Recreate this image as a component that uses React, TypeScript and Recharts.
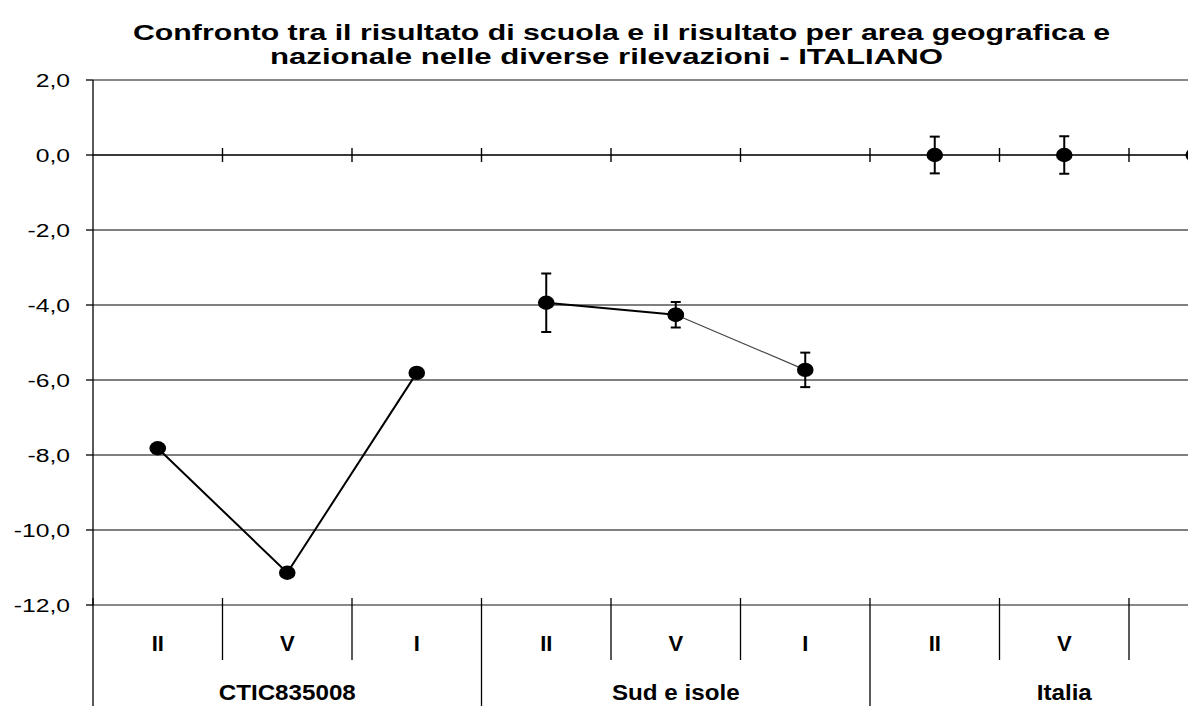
import React from 'react';
import { LineChart, Line, XAxis, YAxis, CartesianGrid, ReferenceLine, ErrorBar } from 'recharts';

// ---- data ----
const groups = ['CTIC835008', 'Sud e isole', 'Italia'];
const surveys = ['II', 'V', 'I'];
const schoolScores = [-7.82, -11.14, -5.81];
const areaScores = [-3.94, -4.26, -5.73];
const areaErrors = [0.78, 0.34, 0.46];
const nationalScores = [0, 0, 0];
const nationalErrors = [0.49, 0.5, 0.5];
const yTicks = [2, 0, -2, -4, -6, -8, -10, -12];
const titleLines = [
  'Confronto tra il risultato di scuola e il risultato per area geografica e',
  'nazionale nelle diverse rilevazioni - ITALIANO',
];

type Row = { [k: string]: any };
const data: Row[] = [];
groups.forEach((g, gi) => {
  surveys.forEach((s, si) => {
    const row: Row = { id: `${gi}-${si}`, group: g, survey: s };
    if (gi === 0) row.school = schoolScores[si];
    if (gi === 1) {
      if (si <= 1) {
        row.areaA = areaScores[si];
        row.areaAErr = [areaErrors[si], areaErrors[si]];
      }
      if (si >= 1) row.areaB = areaScores[si];
      if (si === 2) row.areaBErr = [areaErrors[si], areaErrors[si]];
    }
    if (gi === 2) {
      row.national = nationalScores[si];
      row.nationalErr = [nationalErrors[si], nationalErrors[si]];
    }
    data.push(row);
  });
});

// ---- layout ----
const VIEW_W = 1188;
const VIEW_H = 706;
const CHART_W = 1270;
const CHART_H = 720;
const PLOT_LEFT = 93;
const PLOT_W = 1165.5;
const BAND = PLOT_W / data.length;
const FONT = '"Liberation Sans", Arial, Helvetica, sans-serif';

const fmt = (v: number) => v.toFixed(1).replace('.', ',');

const Dot = (p: any) => {
  if (p.cx == null || p.cy == null || p.value == null) return <g key={`e-${p.index}`} />;
  return <ellipse key={`d-${p.index}`} cx={p.cx} cy={p.cy} rx={8.3} ry={7.2} fill="#000" />;
};

const YTick = (p: any) => (
  <text
    x={0}
    y={0}
    transform={`translate(${p.x},${p.y + 1}) scale(1.3,1)`}
    textAnchor="end"
    dominantBaseline="central"
    fontSize={19}
    fontFamily={FONT}
    fill="#000"
  >
    {fmt(p.payload.value)}
  </text>
);

const XTick = (p: any) => {
  const { x, y, index } = p;
  const row = data[index];
  if (!row) return <g />;
  const half = BAND / 2;
  const first = index % surveys.length === 0;
  const last = index === data.length - 1;
  const labelVisible = x + 12 < VIEW_W;
  return (
    <g>
      <line x1={x - half} x2={x - half} y1={y - 7} y2={first ? y + 130 : y + 55} stroke="#000" strokeWidth={1.3} />
      {last && <line x1={x + half} x2={x + half} y1={y - 7} y2={y + 130} stroke="#000" strokeWidth={1.3} />}
      {labelVisible && (
        <text x={x} y={y + 46} textAnchor="middle" fontSize={22} fontWeight="bold" fontFamily={FONT} fill="#000">
          {row.survey}
        </text>
      )}
      {index % surveys.length === 1 && (
        <text
          x={0}
          y={0}
          transform={`translate(${x},${y + 95}) scale(1.1,1)`}
          textAnchor="middle"
          fontSize={22}
          fontWeight="bold"
          fontFamily={FONT}
          fill="#000"
        >
          {row.group}
        </text>
      )}
    </g>
  );
};

const ZeroAxis = (p: any) => {
  const { x1, x2, y1 } = p;
  const n = data.length;
  const step = (x2 - x1) / n;
  return (
    <g>
      <line x1={x1} x2={x2} y1={y1} y2={y1} stroke="#222" strokeWidth={1.4} />
      {Array.from({ length: n }, (_, k) => (
        <line
          key={k}
          x1={x1 + (k + 1) * step}
          x2={x1 + (k + 1) * step}
          y1={y1 - 7}
          y2={y1 + 7}
          stroke="#000"
          strokeWidth={1.4}
        />
      ))}
    </g>
  );
};

export default function App() {
  return (
    <div
      style={{
        position: 'absolute',
        left: 0,
        top: 0,
        width: VIEW_W,
        height: VIEW_H,
        overflow: 'hidden',
        background: '#fff',
      }}
    >
      <svg
        width={VIEW_W}
        height={80}
        style={{ position: 'absolute', left: 0, top: 0 }}
      >
        <text x={133} y={40} textLength={977} lengthAdjust="spacingAndGlyphs" fontSize={22} fontWeight="bold" fontFamily={FONT} fill="#000">
          {titleLines[0]}
        </text>
        <text x={270} y={64} textLength={673} lengthAdjust="spacingAndGlyphs" fontSize={22} fontWeight="bold" fontFamily={FONT} fill="#000">
          {titleLines[1]}
        </text>
      </svg>
      <div style={{ position: 'absolute', left: 0, top: 0 }}>
        <LineChart
          width={CHART_W}
          height={CHART_H}
          data={data}
          margin={{ top: 80, right: CHART_W - PLOT_LEFT - PLOT_W, bottom: 5, left: 0 }}
        >
          <CartesianGrid vertical={false} stroke="#000" strokeWidth={1} />
          <XAxis
            dataKey="id"
            type="category"
            interval={0}
            padding={{ left: BAND / 2, right: BAND / 2 }}
            axisLine={false}
            tickLine={false}
            tickSize={0}
            tickMargin={0}
            height={110}
            tick={<XTick />}
          />
          <YAxis
            type="number"
            domain={[-12, 2]}
            ticks={yTicks}
            interval={0}
            width={PLOT_LEFT}
            tickSize={7}
            tickMargin={16}
            axisLine={{ stroke: '#000', strokeWidth: 1.3 }}
            tickLine={{ stroke: '#000', strokeWidth: 1.3 }}
            tick={<YTick />}
          />
          <ReferenceLine y={2} stroke="#888" strokeWidth={2.2} />
          <ReferenceLine y={-12} stroke="#888" strokeWidth={2.2} />
          <ReferenceLine y={0} shape={ZeroAxis} />
          <Line
            dataKey="school"
            stroke="#000"
            strokeWidth={2}
            dot={Dot}
            activeDot={false}
            isAnimationActive={false}
            connectNulls={false}
          />
          <Line
            dataKey="areaB"
            stroke="#444"
            strokeWidth={1.1}
            dot={Dot}
            activeDot={false}
            isAnimationActive={false}
            connectNulls={false}
          >
            <ErrorBar dataKey="areaBErr" direction="y" width={5} stroke="#000" strokeWidth={2} />
          </Line>
          <Line
            dataKey="areaA"
            stroke="#000"
            strokeWidth={2}
            dot={Dot}
            activeDot={false}
            isAnimationActive={false}
            connectNulls={false}
          >
            <ErrorBar dataKey="areaAErr" direction="y" width={5} stroke="#000" strokeWidth={2} />
          </Line>
          <Line
            dataKey="national"
            stroke="none"
            dot={Dot}
            activeDot={false}
            isAnimationActive={false}
          >
            <ErrorBar dataKey="nationalErr" direction="y" width={5} stroke="#000" strokeWidth={2} />
          </Line>
        </LineChart>
      </div>
    </div>
  );
}
